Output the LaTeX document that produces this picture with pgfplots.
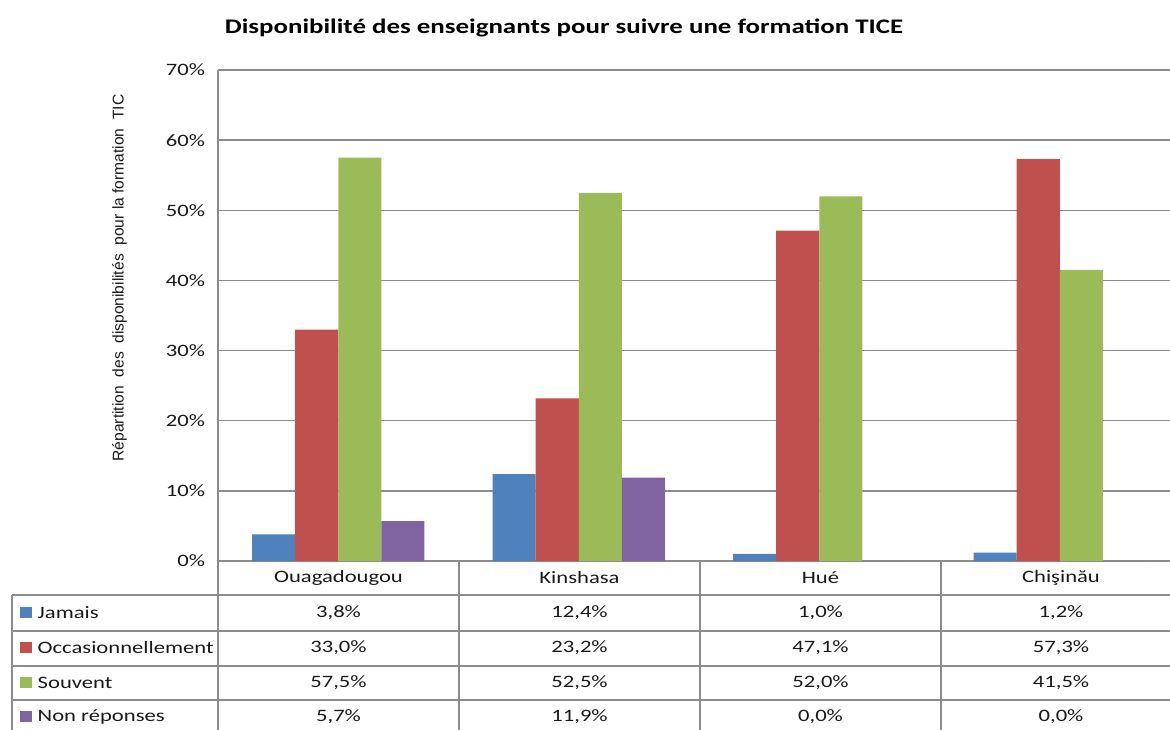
\documentclass[border=0pt]{standalone}
\usepackage{pgfplots}
\pgfplotsset{compat=1.18}
\usepackage{fontspec}
\setmainfont{Carlito}[FakeStretch=1.3]
\newfontfamily\arialf{Liberation Sans}
\definecolor{cBlue}{HTML}{4F81BD}
\definecolor{cRed}{HTML}{C0504D}
\definecolor{cGreen}{HTML}{9BBB59}
\definecolor{cPurple}{HTML}{8064A2}
\definecolor{cGrid}{HTML}{8C8C8C}
\begin{document}
\begin{tikzpicture}
\path[use as bounding box] (0,0) rectangle (585pt,-364.5pt);
\clip (0,0) rectangle (585pt,-364.5pt);
\begin{axis}[
  at={(109pt,-280.5pt)}, anchor=south west,
  scale only axis, width=481pt, height=245.5pt,
  xmin=-0.5, xmax=3.5, ymin=0, ymax=70,
  ybar=0pt, bar width=0.179,
  axis x line*=bottom, axis y line*=left,
  axis line style={cGrid, line width=0.7pt, -},
  xtick=\empty,
  ytick={0,10,20,30,40,50,60,70},
  yticklabels={0\%,10\%,20\%,30\%,40\%,50\%,60\%,70\%},
  major tick length=0pt,
  ymajorgrids, grid style={cGrid, line width=0.7pt},
  yticklabel style={font=\fontsize{8.7}{10}\selectfont, text=black!90, xshift=-3pt},
  /pgf/number format/assume math mode=true,
  clip=false,
]
\addplot[fill=cBlue, draw=none] coordinates {(0,3.8) (1,12.4) (2,1.0) (3,1.2)};
\addplot[fill=cRed, draw=none] coordinates {(0,33.0) (1,23.2) (2,47.1) (3,57.3)};
\addplot[fill=cGreen, draw=none] coordinates {(0,57.5) (1,52.5) (2,52.0) (3,41.5)};
\addplot[fill=cPurple, draw=none] coordinates {(0,5.7) (1,11.9) (2,0) (3,0)};
\end{axis}
% title
\node[font=\bfseries\fontsize{10.35}{12}\selectfont] at (282pt,-14pt) {Disponibilité des enseignants pour suivre une formation TICE};
% y label
\node[rotate=90, font=\arialf\fontsize{7.8}{9}\selectfont, text=black!90] at (59.75pt,-139pt) {Répartition\ \ des\ \ disponibilités\ \ pour la formation\ \ TIC};
% data table
\begin{scope}[x=0.5pt, y=-0.5pt, line width=0.7pt]
  \draw[cGrid] (218,561) -- (218,740);
  \draw[cGrid] (459,561) -- (459,740);
  \draw[cGrid] (700,561) -- (700,740);
  \draw[cGrid] (941,561) -- (941,740);
  \draw[cGrid] (1180,561) -- (1180,740);
  \draw[cGrid] (12,595) -- (12,740);
  \foreach \yy in {595,631,666,700,735} \draw[cGrid] (12,\yy) -- (1185,\yy);
  \begin{scope}[every node/.style={font=\fontsize{8.7}{10}\selectfont, text=black!90}]
    \node at (338.5,578) {Ouagadougou};
    \node at (579.5,578) {Kinshasa};
    \node at (820.5,578) {Hué};
    \node at (1061,578) {Chişinău};
    \foreach \yc/\lab/\col/\a/\b/\c/\d in {
      613/Jamais/cBlue/{3,8\%}/{12,4\%}/{1,0\%}/{1,2\%},
      648/Occasionnellement/cRed/{33,0\%}/{23,2\%}/{47,1\%}/{57,3\%},
      683/Souvent/cGreen/{57,5\%}/{52,5\%}/{52,0\%}/{41,5\%},
      717/Non réponses/cPurple/{5,7\%}/{11,9\%}/{0,0\%}/{0,0\%}} {
      \fill[\col] (20,\yc-6) rectangle (32,\yc+5);
      \node[anchor=west, inner xsep=0pt] at (37,\yc) {\lab};
      \node at (338.5,\yc) {\a};
      \node at (579.5,\yc) {\b};
      \node at (820.5,\yc) {\c};
      \node at (1061,\yc) {\d};
    }
  \end{scope}
\end{scope}
\end{tikzpicture}
\end{document}
